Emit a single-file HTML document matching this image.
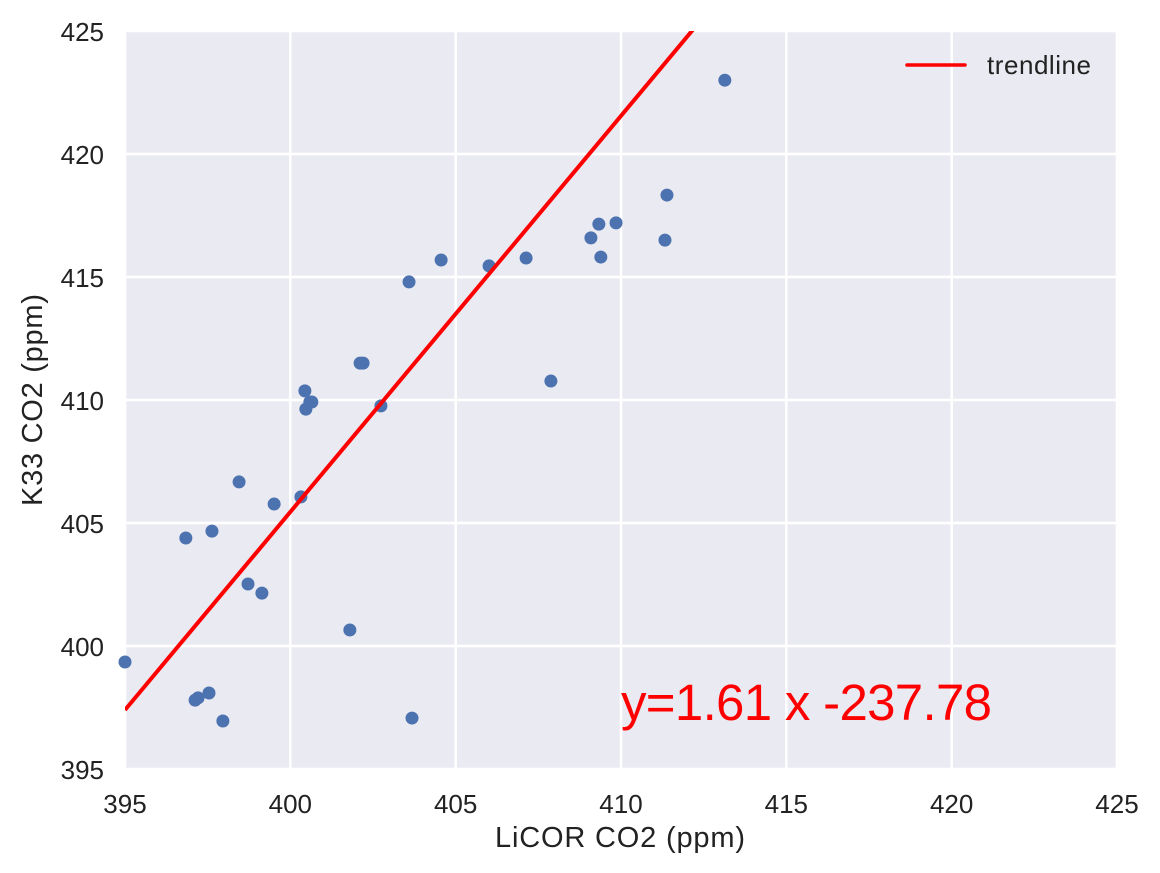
<!DOCTYPE html>
<html><head><meta charset="utf-8"><style>
body{margin:0;background:#fff;}
svg{display:block;font-family:"Liberation Sans",sans-serif;}
</style></head><body>
<svg id="chart" width="1160" height="873">
<rect x="125" y="31" width="992" height="738" fill="#eaeaf2"/>
<g id="grid"></g><g id="ticks"></g>
<g id="pts"></g><g id="line"></g>
<text x="620" y="847" font-size="29" fill="#222" text-anchor="middle" textLength="250">LiCOR CO2 (ppm)</text>
<text transform="translate(42,400) rotate(-90)" font-size="29" fill="#222" text-anchor="middle" textLength="212">K33 CO2 (ppm)</text>
<text x="621" y="720" font-size="51" fill="#ff0000" textLength="371">y=1.61 x -237.78</text>
<g>
<line x1="907" y1="65" x2="965" y2="65" stroke="#ff0000" stroke-width="3.5" stroke-linecap="round"/>
<text x="987" y="74" font-size="26" fill="#222" textLength="104">trendline</text>
</g>
</svg>
<script>
const xs=[413.14,411.39,411.33,409.85,409.33,409.09,409.39,407.13,406.01,404.56,403.59,402.11,402.20,400.44,400.47,400.59,400.65,402.74,407.88,398.45,399.51,400.32,396.84,397.63,398.72,399.14,401.80,395.0,397.12,397.21,397.54,397.96,403.68];
const ys=[423.0,418.33,416.5,417.2,417.15,416.59,415.81,415.77,415.45,415.69,414.80,411.50,411.50,410.37,409.63,409.92,409.92,409.76,410.77,406.67,405.77,406.06,404.39,404.67,402.52,402.15,400.65,399.35,397.80,397.89,398.09,396.95,397.07];
const xTicks=[395,400,405,410,415,420,425];
const yTicks=[395,400,405,410,415,420,425];
const slope=1.61, intercept=-238.55;
const NS="http://www.w3.org/2000/svg";
const X=v=>125+(v-395)*992/30, Y=v=>769-(v-395)*738/30;
function mk(t,a,p){const e=document.createElementNS(NS,t);for(const k in a)e.setAttribute(k,a[k]);p.appendChild(e);return e;}
const g=document.getElementById('grid'),tk=document.getElementById('ticks');
xTicks.forEach(v=>{const l=mk('line',{x1:X(v),x2:X(v),y1:31,y2:769,stroke:'#fff','stroke-width':2.5},g);


const t=mk('text',{x:X(v),y:813,'font-size':26,fill:'#222','text-anchor':'middle'},tk);t.textContent=v;

});
yTicks.forEach(v=>{const l=mk('line',{x1:125,x2:1117,y1:Y(v),y2:Y(v),stroke:'#fff','stroke-width':2.5},g);


const t=mk('text',{x:104,y:Y(v)+10,'font-size':26,fill:'#222','text-anchor':'end'},tk);t.textContent=v;

});
const xmin=Math.min(...xs),xmax=Math.max(...xs);
const pg=document.getElementById('pts');
xs.forEach((v,i)=>{const c=mk('circle',{cx:X(v),cy:Y(ys[i]),r:6.5,fill:'#4c72b0'},pg);

});
const lg=document.getElementById('line');
const cp=mk('clipPath',{id:'cp'},lg);mk('rect',{x:125,y:31,width:992,height:738},cp);
const tl=mk('line',{x1:X(xmin),y1:Y(slope*xmin+intercept),x2:X(xmax),y2:Y(slope*xmax+intercept),stroke:'#ff0000','stroke-width':4,'clip-path':'url(#cp)'},lg);


</script>
</body></html>
